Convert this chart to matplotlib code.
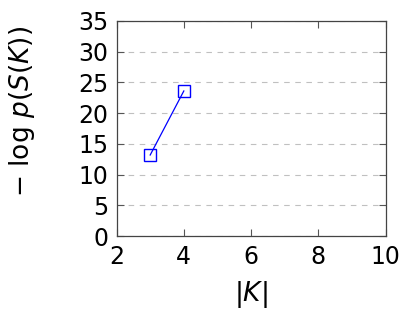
import matplotlib
matplotlib.use("Agg")
import matplotlib.pyplot as plt

plt.rcParams['font.family'] = ['DejaVu Sans']
plt.rcParams['mathtext.fontset'] = 'dejavusans'

set_sizes = [3, 4]
neg_log_p = [13.2, 23.6]
x_ticks = [2, 4, 6, 8, 10]
y_ticks = [0, 5, 10, 15, 20, 25, 30, 35]

fig = plt.figure(figsize=(4.02, 3.15), dpi=100)
ax = fig.add_axes([0.290, 0.250, 0.669, 0.684])

ax.plot(set_sizes, neg_log_p, color="blue", lw=0.9, marker="s", markersize=9,
        markerfacecolor="none", markeredgecolor="blue", markeredgewidth=1.0)

ax.set_xlim(2, 10)
ax.set_ylim(0, 35)
ax.set_xticks(x_ticks)
ax.set_yticks(y_ticks)
ax.yaxis.grid(True, linestyle=(0, (5, 5)), color="#c0c0c0", lw=0.8)
ax.set_axisbelow(True)
ax.tick_params(direction="in", top=True, right=True, labelsize=17, length=5,
               color="#555555", pad=6)
for s in ax.spines.values():
    s.set_color("#444444")
    s.set_linewidth(0.9)

ax.set_xlabel(r"$|K|$", fontsize=19)
ax.set_ylabel(r"$-\ \log\,p(S(K))$", fontsize=19)
ax.xaxis.set_label_coords(0.5, -0.2)
ax.yaxis.set_label_coords(-0.296, 0.577)

fig.savefig("out.png", dpi=100)
